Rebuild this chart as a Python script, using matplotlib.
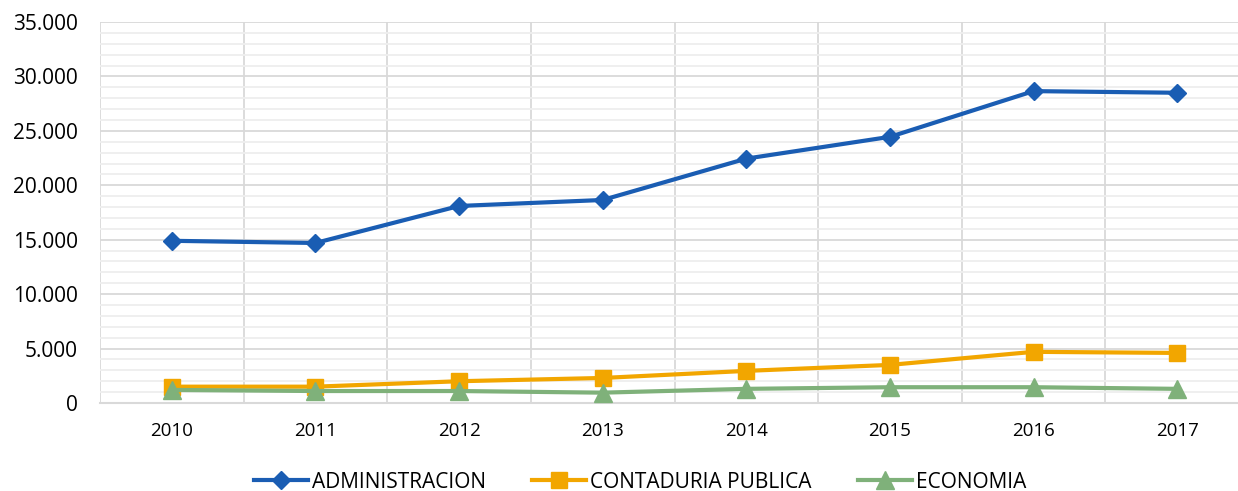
import matplotlib.pyplot as plt
from matplotlib.ticker import MultipleLocator, FuncFormatter

plt.rcParams['font.family'] = ['Open Sans', 'DejaVu Sans']

years = ['2010', '2011', '2012', '2013', '2014', '2015', '2016', '2017']
administracion = [14900, 14700, 18100, 18650, 22450, 24450, 28650, 28500]
contaduria = [1500, 1500, 2000, 2300, 2950, 3500, 4700, 4600]
economia = [1200, 1100, 1100, 950, 1300, 1450, 1450, 1300]

blue = '#1a5db3'
orange = '#f2a600'
green = '#7fb17a'

fig = plt.figure(figsize=(12.38, 4.91), dpi=100)
ax = fig.add_axes([100 / 1238, 1 - 403 / 491, 1149 / 1238, 381 / 491])

x = list(range(len(years)))
ax.plot(x, administracion, color=blue, lw=3, marker='D', ms=9.5, label='ADMINISTRACION', zorder=5)
ax.plot(x, contaduria, color=orange, lw=3, marker='s', ms=12, label='CONTADURIA PUBLICA', zorder=4)
ax.plot(x, economia, color=green, lw=3, marker='^', ms=13, label='ECONOMIA', zorder=5)

ax.set_xlim(-0.5, len(years) - 0.5)
ax.set_ylim(0, 35000)
ax.set_xticks(x)
ax.set_xticklabels(years, fontsize=13.5)
ax.xaxis.set_minor_locator(MultipleLocator(1, offset=0.5))
ax.yaxis.set_major_locator(MultipleLocator(5000))
ax.yaxis.set_minor_locator(MultipleLocator(1000))
ax.yaxis.set_major_formatter(FuncFormatter(lambda v, p: f'{int(v):,}'.replace(',', '.')))
ax.tick_params(axis='y', labelsize=15, length=0, pad=16)
ax.tick_params(axis='x', length=0, pad=14)
ax.tick_params(which='minor', length=0)

ax.grid(which='major', axis='y', color='#d9d9d9', lw=1.3)
ax.grid(which='minor', axis='y', color='#eeeeee', lw=1.3)
ax.grid(which='minor', axis='x', color='#d9d9d9', lw=1.3)
ax.set_axisbelow(True)
for s in ['top', 'right', 'left']:
    ax.spines[s].set_visible(False)
ax.spines['bottom'].set_color('#d9d9d9')
ax.spines['bottom'].set_linewidth(1.5)

leg = fig.legend(loc='center', bbox_to_anchor=(640 / 1238, 1 - 482 / 491), ncol=3, frameon=False,
                 fontsize=15, handlelength=2.6, columnspacing=2.2, handletextpad=0.2)

fig.savefig('out.png', dpi=100)
